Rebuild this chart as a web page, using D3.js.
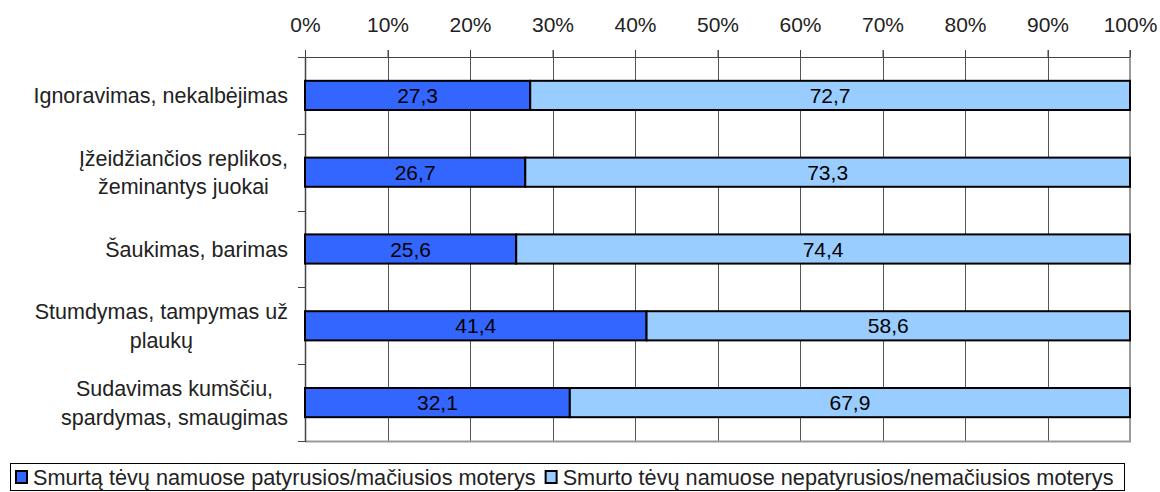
<!DOCTYPE html>
<html>
<head>
<meta charset="utf-8">
<script src="https://cdn.jsdelivr.net/npm/d3@7"></script>
<style>
  html, body { margin: 0; padding: 0; background: #fff; }
  svg { display: block; }
  text { font-family: "Liberation Sans", Arial, sans-serif; fill: #222; }
</style>
</head>
<body>
<svg id="chart" width="1160" height="492"></svg>
<script>
const categories = [
  "Ignoravimas, nekalbėjimas",
  "Įžeidžiančios replikos,\nžeminantys juokai",
  "Šaukimas, barimas",
  "Stumdymas, tampymas už\nplaukų",
  "Sudavimas kumščiu,\nspardymas, smaugimas"
];
const seriesNames = [
  "Smurtą tėvų namuose patyrusios/mačiusios moterys",
  "Smurto tėvų namuose nepatyrusios/nemačiusios moterys"
];
const experienced = [27.3, 26.7, 25.6, 41.4, 32.1];
const notExperienced = [72.7, 73.3, 74.4, 58.6, 67.9];
const tickValues = [0, 10, 20, 30, 40, 50, 60, 70, 80, 90, 100];
const colors = ["#3366FF", "#99CCFF"];

const svg = d3.select("#chart");
const plot = { left: 305, right: 1130, top: 57, bottom: 441 };

const x = d3.scaleLinear().domain([0, 100]).range([plot.left, plot.right]);
const y = d3.scaleBand().domain(categories).range([plot.top, plot.bottom])
  .paddingInner(0.62).paddingOuter(0.31);
const yBands = d3.scaleBand().domain(categories).range([plot.top, plot.bottom]).padding(0);

const fmt = d3.format(".1f");
const comma = v => fmt(v).replace(".", ",");

// gridlines
svg.append("g").selectAll("line").data(tickValues.filter(t => t > 0 && t < 100)).join("line")
  .attr("x1", d => Math.round(x(d)) + 0.5).attr("x2", d => Math.round(x(d)) + 0.5)
  .attr("y1", plot.top - 7).attr("y2", plot.bottom)
  .attr("stroke", "#555").attr("stroke-width", 1);

// right & bottom plot border (gray)
svg.append("line").attr("x1", x(100)).attr("x2", x(100))
  .attr("y1", plot.top - 7).attr("y2", plot.bottom + 1)
  .attr("stroke", "#999").attr("stroke-width", 2);
svg.append("line").attr("x1", plot.left).attr("x2", x(100) + 1)
  .attr("y1", plot.bottom + 0.5).attr("y2", plot.bottom + 0.5)
  .attr("stroke", "#999").attr("stroke-width", 2);

// top axis
const xAxis = d3.axisTop(x).tickValues(tickValues).tickSize(7).tickPadding(0)
  .tickFormat(d => d + "%");
const gx = svg.append("g").attr("transform", `translate(0,${plot.top})`).call(xAxis);
gx.select(".domain").attr("stroke", "#444").attr("d", `M${plot.left - 7},0.5H${plot.right}`);
gx.selectAll(".tick line").attr("stroke", "#444");
gx.selectAll(".tick text").attr("y", -25).attr("font-size", 21)
  .style("font-family", '"Liberation Sans", Arial, sans-serif').attr("fill", "#222");

// left axis line and ticks at band boundaries
svg.append("line").attr("x1", plot.left + 0.5).attr("x2", plot.left + 0.5)
  .attr("y1", plot.top).attr("y2", plot.bottom + 1)
  .attr("stroke", "#444").attr("stroke-width", 1.5);
const boundaries = categories.map(c => yBands(c)).concat([plot.bottom]);
svg.append("g").selectAll("line").data(boundaries).join("line")
  .attr("x1", plot.left - 7).attr("x2", plot.left)
  .attr("y1", d => Math.round(d) + 0.5).attr("y2", d => Math.round(d) + 0.5)
  .attr("stroke", "#444");

// bars
const rows = categories.map((c, i) => ({ cat: c, vals: [experienced[i], notExperienced[i]] }));
const barG = svg.append("g");
rows.forEach(r => {
  let acc = 0;
  r.vals.forEach((v, k) => {
    const x0 = x(acc), x1 = x(acc + v);
    barG.append("rect")
      .attr("x", x0).attr("y", y(r.cat))
      .attr("width", x1 - x0).attr("height", y.bandwidth())
      .attr("fill", colors[k]).attr("stroke", "#000").attr("stroke-width", 2);
    barG.append("text")
      .attr("x", (x0 + x1) / 2).attr("y", y(r.cat) + y.bandwidth() / 2)
      .attr("dy", "0.36em").attr("text-anchor", "middle")
      .attr("font-size", 21).style("fill", "#000")
      .text(comma(v));
    acc += v;
  });
});

// category labels
const labelRight = 288;
const lineGap = 28.5;
categories.forEach(c => {
  const lines = c.split("\n");
  const g = svg.append("g");
  const texts = lines.map((ln, j) => g.append("text")
    .attr("font-size", 21.5)
    .attr("y", yBands(c) + yBands.bandwidth() / 2 + (j - (lines.length - 1) / 2) * lineGap)
    .attr("dy", "0.36em")
    .attr("text-anchor", "middle")
    .text(ln));
  const maxW = d3.max(texts, t => t.node().getComputedTextLength());
  texts.forEach(t => t.attr("x", labelRight - maxW / 2));
});

// legend
const legend = svg.append("g");
legend.append("rect").attr("x", 10.5).attr("y", 463.5).attr("width", 1114).attr("height", 27)
  .attr("fill", "#fff").attr("stroke", "#000").attr("stroke-width", 1);
let lx = 15;
seriesNames.forEach((name, k) => {
  legend.append("rect").attr("x", lx + 1).attr("y", 471).attr("width", 11).attr("height", 12)
    .attr("fill", colors[k]).attr("stroke", "#000").attr("stroke-width", 2);
  const t = legend.append("text").attr("x", lx + 18).attr("y", 477).attr("dy", "0.36em")
    .attr("font-size", 21.7).text(name);
  lx = lx + 18 + t.node().getComputedTextLength() + 9;
});
</script>
</body>
</html>
